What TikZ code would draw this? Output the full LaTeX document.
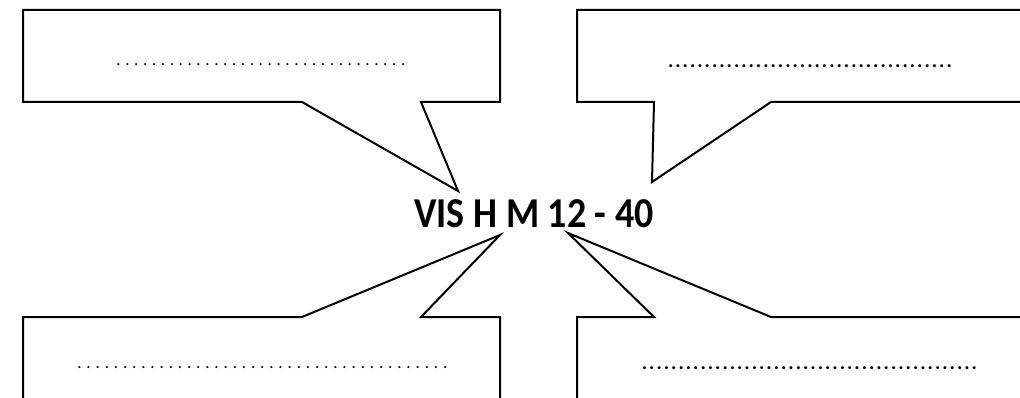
\documentclass[tikz,border=0pt]{standalone}
\usepackage{fontspec}
\setmainfont{Carlito}
\usetikzlibrary{positioning}
\newcommand\dotrow[2]{\hbox{\cleaders\hbox to #2{\hss.\hss}\hskip#1}}
\tikzset{
  balloon/.style={draw,line width=2pt,line join=miter,fill=white},
  thindots/.style={inner sep=0pt,font=\fontsize{17}{17}\selectfont},
  bolddots/.style={inner sep=0pt,font=\bfseries\fontsize{20}{20}\selectfont},
}
\begin{document}
\begin{tikzpicture}[x=1pt,y=-1pt]
\useasboundingbox (0,0) rectangle (1020,398);
\clip (0,0) rectangle (1020,398);
\node[inner sep=0pt,font=\bfseries\fontsize{38}{38}\selectfont] (title) at (534,214) {\scalebox{1}[1.12]{VIS H M 12 - 40}};
% tips of the four balloons
\coordinate (tipNW) at (458,191);
\coordinate (tipNE) at (652,182);
\coordinate (tipSW) at (500,235);
\coordinate (tipSE) at (568,233);
\draw[balloon] (23,10) -- (500,10) -- (500,102) -- (421,102) -- (tipNW) -- (302,102) -- (23,102) -- cycle;
\draw[balloon] (1030,10) -- (577,10) -- (577,102) -- (654,102) -- (tipNE) -- (771,102) -- (1030,102);
\draw[balloon] (23,410) -- (23,317) -- (302,317) -- (tipSW) -- (421,317) -- (500,317) -- (500,410);
\draw[balloon] (577,410) -- (577,317) -- (654,317) -- (tipSE) -- (771,317) -- (1030,317);
% dotted lines to fill in
\node[thindots] (lineNW) at (261,65) {\dotrow{293.7pt}{8.9pt}};
\node[bolddots] (lineNE) at (810,66) {\dotrow{293pt}{7.33pt}};
\node[thindots] (lineSW) at (262.5,368) {\dotrow{384pt}{9.15pt}};
\node[bolddots] (lineSE) at (809.5,368) {\dotrow{344.5pt}{7.33pt}};
\end{tikzpicture}
\end{document}
